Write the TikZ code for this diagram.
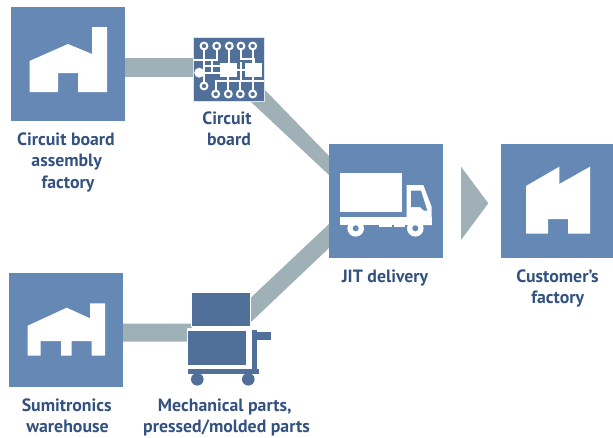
\documentclass[tikz,border=0pt]{standalone}
\usepackage{fontspec}
\setmainfont{PT Sans}
\definecolor{boxblue}{HTML}{6688B4}
\definecolor{darkblue}{HTML}{517099}
\definecolor{bandgrey}{HTML}{9FB0B6}
\definecolor{textblue}{HTML}{34527F}
\definecolor{edgepale}{HTML}{DCE4EC}
\tikzset{
  tile/.style={fill=boxblue,draw=none,minimum size=114pt,inner sep=0pt,outer sep=0pt},
  band/.style={fill=bandgrey,draw=none},
  icon/.style={fill=white,draw=none},
  part/.style={fill=darkblue,draw=white,line width=0.9pt},
  cartpart/.style={fill=darkblue,draw=none},
  trace/.style={draw=white,line width=2.2pt},
  ring/.style={draw=white,fill=darkblue,line width=2pt},
  caption/.style={font=\bfseries\fontsize{17.8}{21}\selectfont,text=textblue,align=center,inner sep=0pt,anchor=base},
}
\begin{document}
\begin{tikzpicture}[x=1pt,y=-1pt]
\useasboundingbox (0,0) rectangle (613,437);
% connectors (behind)
\fill[band] (125,58) -- (194,58) -- (194,76.5) -- (125,76.5) -- cycle;
\fill[band] (265,90) -- (329,156) -- (329,175) -- (250,101) -- cycle;
\fill[band] (123,323.5) -- (192,323.5) -- (192,328) -- (187,328) -- (187,341.5) -- (123,341.5) -- cycle;
\fill[band] (251,297.5) -- (329,224) -- (329,248) -- (251,322) -- cycle;
% tiles
\node[tile] (factoryA) at (68,64) {};
\node[tile] (warehouse) at (66,330) {};
\node[tile] (jit) at (386,201) {};
\node[tile,minimum width=112pt] (customer) at (557,201) {};
% factory A icon
\fill[icon] (29.5,61) -- (68,44) -- (92,54) -- (92,27) -- (107,27) -- (107,92) -- (78,92) -- (78,73) -- (58,73) -- (58,92) -- (29.5,92) -- cycle;
% warehouse icon
\fill[icon] (27.7,325.7) -- (66.7,307.7) -- (90,318.3) -- (90,303.3) -- (105,303.3) -- (105,355.7) -- (91.7,355.7) -- (91.7,341) -- (71.7,341) -- (71.7,355.7) -- (61,355.7) -- (61,341) -- (40.7,341) -- (40.7,355.7) -- (27.7,355.7) -- cycle;
% customer icon
\fill[icon] (526,186) -- (559.3,166.7) -- (559.3,184) -- (590,166.7) -- (590,233.7) -- (568,233.7) -- (568,219) -- (548,219) -- (548,233.7) -- (526,233.7) -- cycle;
% truck
\fill[icon] (340,173.3) rectangle (402.3,211.7);
\fill[icon] (340,216.7) rectangle (431.7,225);
\fill[icon] (379,224) rectangle (392,226.7);
\fill[icon] (394,224) rectangle (405,226.7);
\fill[icon] (406.7,185) -- (423.3,185) -- (431.7,207) -- (431.7,225) -- (406.7,225) -- cycle;
\fill[boxblue] (411,190.7) -- (421,190.7) -- (427.3,210.7) -- (424,210.7) -- (420,207) -- (411,207) -- cycle;
\fill[icon] (355.7,228.3) circle (8.3);
\fill[icon] (415.3,228.3) circle (8.3);
\fill[boxblue] (355.7,228.3) circle (3);
\fill[boxblue] (415.3,228.3) circle (3);
% arrow
\fill[band] (461,166.7) -- (488.3,203.3) -- (461,240) -- cycle;
% circuit board
\node[fill=darkblue,draw=edgepale,line width=0.8pt,minimum width=71pt,minimum height=64pt,inner sep=0pt] (board) at (228.5,69) {};
\draw[trace] (204,46) -- (204,86);
\draw[trace] (216.7,46) -- (216.7,60) -- (194,60);
\draw[trace] (229.3,46) -- (229.3,63);
\draw[trace] (241,46) -- (241,59) -- (254,59) -- (254,63);
\draw[trace] (252.7,46) -- (252.7,63);
\draw[trace] (199,72.7) -- (220,72.7);
\draw[trace] (212,60) -- (212,72.7);
\draw[trace] (204,66) -- (220,66);
\draw[trace] (237,70) -- (245,70);
\draw[trace] (241,62) -- (241,81);
\draw[trace] (215.7,94) -- (215.7,81) -- (264,81);
\draw[trace] (228.3,94) -- (228.3,76);
\draw[trace] (240.3,94) -- (240.3,81);
\draw[trace] (252.7,94) -- (252.7,76);
\fill[icon] (220,62.7) rectangle (237.3,76.7);
\fill[icon] (245,62.7) rectangle (261.7,76.7);
\foreach \px in {204,216.7,229.3,241,252.7} \draw[ring] (\px,46) circle (3.4);
\foreach \px in {215.7,228.3,240.3,252.7} \draw[ring] (\px,94) circle (3.4);
\draw[ring] (204,86) circle (3.4);
\fill[icon] (199.3,72.7) circle (5);
% cart
\node[part,minimum width=59pt,minimum height=34pt,inner sep=0pt] (crateTop) at (221.2,309.2) {};
\node[part,minimum width=58.5pt,minimum height=35.5pt,inner sep=0pt] (crateLow) at (216.8,347.7) {};
\fill[cartpart] (252.3,330) rectangle (257.3,374.3);
\fill[cartpart] (252.3,332) rectangle (271,340);
\fill[cartpart] (188.3,368.7) rectangle (259.3,374.3);
\fill[cartpart] (197.3,379.3) circle (6.3);
\fill[cartpart] (248.3,379.3) circle (6.3);
% captions
\node[caption] (capA) at (66,145) {Circuit board};
\node[caption] (capA2) at (66.7,166.5) {assembly};
\node[caption] (capA3) at (68,188) {factory};
\node[caption] (capB) at (227,124) {Circuit};
\node[caption] (capB2) at (229,145) {board};
\node[caption] (capJ) at (385,282) {JIT delivery};
\node[caption] (capC) at (557.5,282) {Customer’s};
\node[caption] (capC2) at (557.7,303) {factory};
\node[caption] (capS) at (66.7,411) {Sumitronics};
\node[caption] (capS2) at (67.5,432) {warehouse};
\node[caption] (capM) at (224.7,411) {Mechanical parts,};
\node[caption] (capM2) at (226.5,432) {pressed/molded parts};
\end{tikzpicture}
\end{document}
